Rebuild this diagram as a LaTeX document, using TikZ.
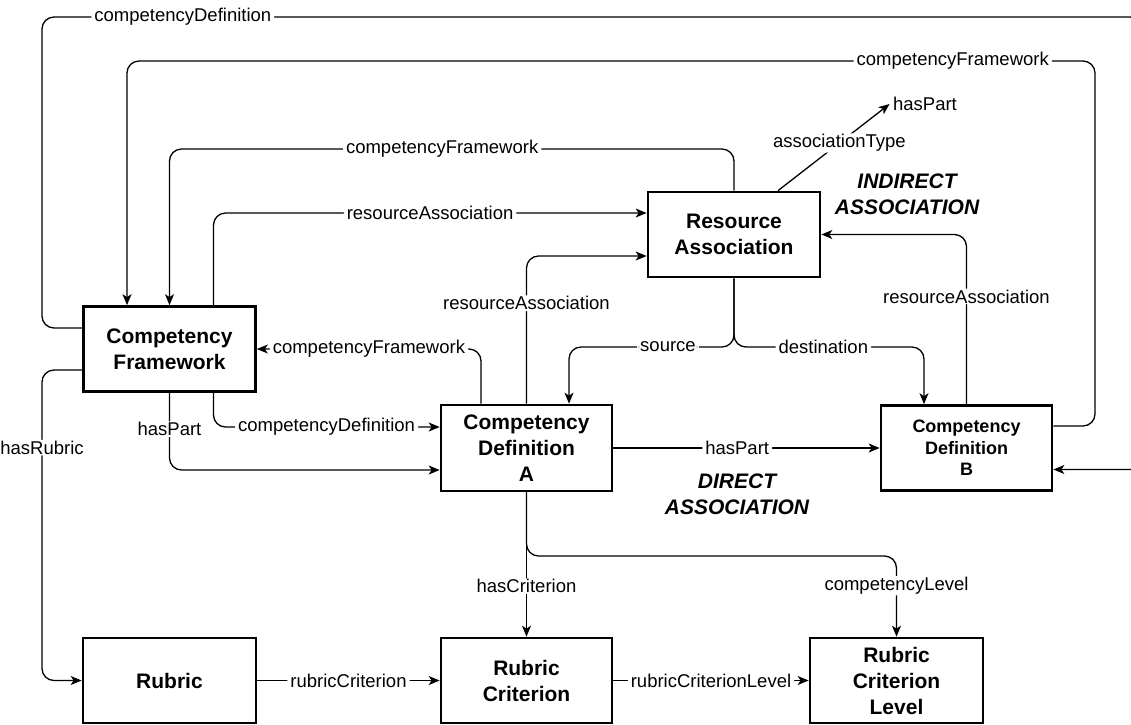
\documentclass[tikz,border=0pt]{standalone}
\usepackage{fontspec}
\setmainfont{Liberation Sans}
\usetikzlibrary{arrows.meta}

\begin{document}
\begin{tikzpicture}[x=1pt, y=-1pt, >={Stealth[length=11pt, width=9pt, inset=3pt]},
		box/.style={draw, line width=2.7pt, minimum width=172pt, minimum height=85pt, inner sep=0pt,
				align=center, font=\bfseries\fontsize{21}{26}\selectfont},
		lbl/.style={fill=white, inner xsep=3pt, inner ysep=1pt, font=\fontsize{18.5}{22}\selectfont},
		conn/.style={line width=1.3pt, rounded corners=12pt, ->},
		note/.style={align=center, font=\bfseries\itshape\fontsize{21}{26}\selectfont}]

		\useasboundingbox (0,0) rectangle (1131,724);

		% Boxes
		\node[box] (CF) at (169.5,349) {Competency\\Framework};
		\node[box, minimum width=171pt, minimum height=86pt] (CDA) at (526.5,448) {Competency\\Definition\\A};
		\node[box] (RA) at (734,234.5) {Resource\\Association};
		\node[box, minimum width=171pt, font=\bfseries\fontsize{18}{21.5}\selectfont] (CDB) at (966.5,448) {Competency\\Definition\\B};
		\node[box, minimum width=173pt] (RUB) at (169.5,680.5) {Rubric};
		\node[box, minimum width=171pt] (RC) at (526.5,680.5) {Rubric\\Criterion};
		\node[box, minimum width=173pt] (RCL) at (896.5,680.5) {Rubric\\Criterion\\Level};

		% Association type value
		\node[font=\fontsize{18.5}{22}\selectfont] (TYPE) at (925,104) {hasPart};

		% Notes
		\node[note] (IND) at (907,194) {INDIRECT\\ASSOCIATION};
		\node[note] (DIR) at (737,494.5) {DIRECT\\ASSOCIATION};

		% --- Outer loops ---

		% Framework to definition B (runs off the right edge)
		\draw[conn] ([yshift=21pt]CF.west) -- (42,328) -- (42,17)
			-- node[lbl, pos=0.128] {competencyDefinition} (1142,17) -- (1142,469.5) -- ([yshift=-21.5pt]CDB.east);

		% Definition B back to framework
		\draw[conn] ([yshift=22pt]CDB.east) -- (1095,426) -- (1095,61)
			-- node[lbl, pos=0.147] {competencyFramework} (127,61) -- ([xshift=-42.5pt]CF.north);

		% Resource association to framework
		\draw[conn] (RA.north) -- (734,149) -- node[lbl, pos=0.517] {competencyFramework} (169.5,149) -- (CF.north);

		% Framework to resource association
		\draw[conn] ([xshift=44pt]CF.north) -- (213.5,213) -- node[lbl] {resourceAssociation} ([yshift=21.5pt]RA.west);

		% Definition A to resource association
		\draw[conn] (CDA.north) -- node[lbl, pos=0.68] {resourceAssociation} (526.5,256) -- ([yshift=-21.5pt]RA.west);

		% Definition A to framework
		\draw[conn] ([xshift=-45.5pt]CDA.north) -- (481,349) -- node[lbl] {competencyFramework} (CF.east);

		% Framework to definition A
		\draw[conn] ([xshift=44pt]CF.south) -- (213.5,427) -- node[lbl] {competencyDefinition} ([yshift=21pt]CDA.west);
		\draw[conn] (CF.south) -- node[lbl, pos=0.47] {hasPart} (169.5,470) -- ([yshift=-22pt]CDA.west);

		% Framework to rubric
		\draw[conn] ([yshift=-21pt]CF.west) -- (42,370) -- node[lbl, pos=0.25] {hasRubric} (42,680.5) -- (RUB.west);

		% --- Indirect association ---
		\draw[conn] (RA.south) -- (734,347) -- node[lbl, pos=0.4] {source} (569,347) -- ([xshift=42.5pt]CDA.north);
		\draw[conn] (RA.south) -- (734,347) -- node[lbl, pos=0.47] {destination} (924,347) -- ([xshift=-42.5pt]CDB.north);
		\draw[conn] ([xshift=44pt]RA.north) -- node[lbl, pos=0.55] {associationType} (TYPE.west);
		\draw[conn] (CDB.north) -- node[lbl, pos=0.635] {resourceAssociation} (966.5,234.5) -- (RA.east);

		% --- Direct association ---
		\draw[conn] (CDA.east) -- node[lbl, pos=0.465] {hasPart} (CDB.west);

		% --- Rubric row ---
		\draw[conn] (CDA.south) -- node[lbl, pos=0.65] {hasCriterion} (RC.north);
		\draw[conn] (CDA.south) -- (526.5,556) -- (896.5,556) -- node[lbl, pos=0.37] {competencyLevel} (RCL.north);
		\draw[conn] (RUB.east) -- node[lbl] {rubricCriterion} (RC.west);
		\draw[conn] (RC.east) -- node[lbl] {rubricCriterionLevel} (RCL.west);

	\end{tikzpicture}
\end{document}
